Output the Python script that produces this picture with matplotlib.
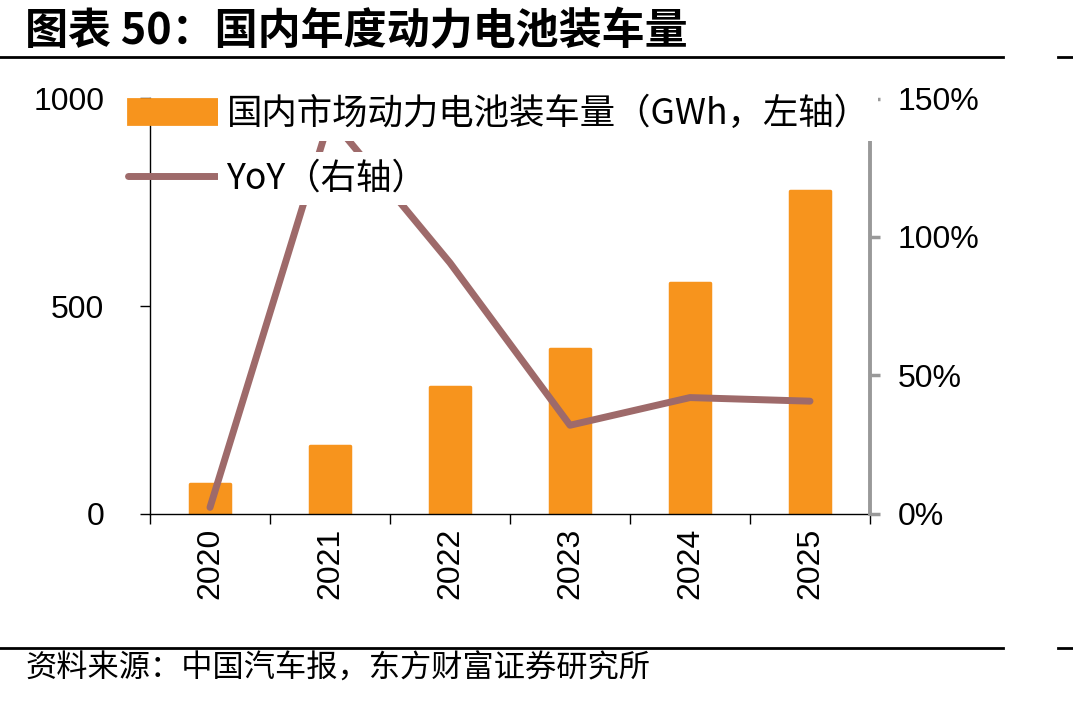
import matplotlib
matplotlib.use("Agg")
import matplotlib.pyplot as plt
from matplotlib.lines import Line2D
from matplotlib.ticker import FixedLocator, FuncFormatter

years = ["2020", "2021", "2022", "2023", "2024", "2025"]
install_gwh = [72, 163, 304, 397, 556, 777]
yoy = [0.022, 1.43, 0.906, 0.319, 0.419, 0.406]

left_ticks = [0, 500, 1000]
right_ticks = [0, 0.5, 1.0, 1.5]

title = "图表 50：国内年度动力电池装车量"
source = "资料来源：中国汽车报，东方财富证券研究所"
bar_label = "国内市场动力电池装车量（GWh，左轴）"
line_label = "YoY（右轴）"

CJK = ["Noto Sans CJK SC", "DejaVu Sans"]
NUM = ["Liberation Sans", "DejaVu Sans"]
BAR_C = "#F7941D"
LINE_C = "#9E6A6A"
GRAY = "#999999"

W, H = 1073, 701
fig = plt.figure(figsize=(W / 100, H / 100), dpi=100)

ax = fig.add_axes([150 / W, 1 - 513.5 / H, 720 / W, 415 / H])
x = list(range(len(years)))
ax.bar(x, install_gwh, width=0.33, color=BAR_C, edgecolor=BAR_C,
       linewidth=2.5, joinstyle="round", zorder=2)
ax.set_xlim(-0.5, len(years) - 0.5)
ax.set_ylim(0, 1000)
ax.set_yticks(left_ticks)
ax.set_yticklabels([str(v) for v in left_ticks], fontfamily=NUM, fontsize=23)
ax.tick_params(axis="y", direction="out", length=7, width=1, pad=26, colors="black")
ax.set_xticks(x)
ax.set_xticklabels(years, rotation=90, fontfamily=NUM, fontsize=23)
ax.tick_params(axis="x", which="major", length=0, pad=10)
ax.xaxis.set_minor_locator(FixedLocator([i - 0.5 for i in range(len(years) + 1)]))
ax.tick_params(axis="x", which="minor", direction="out", length=7, width=1, color="black")
for s in ["top", "right"]:
    ax.spines[s].set_visible(False)
ax.spines["left"].set_linewidth(1)
ax.spines["bottom"].set_linewidth(1)

ax2 = ax.twinx()
ax2.plot(x, yoy, color=LINE_C, linewidth=5, solid_capstyle="round",
         solid_joinstyle="round", zorder=3)
ax2.set_ylim(0, 1.5)
ax2.set_yticks(right_ticks)
ax2.yaxis.set_major_formatter(FuncFormatter(lambda v, p: f"{v*100:.0f}%"))
for lab in ax2.get_yticklabels():
    lab.set_fontfamily(NUM)
    lab.set_fontsize(23)
ax2.tick_params(axis="y", direction="out", length=7, width=2.5, color=GRAY,
                labelcolor="black", pad=13)
for s in ["top", "left", "bottom"]:
    ax2.spines[s].set_visible(False)
ax2.spines["right"].set_color(GRAY)
ax2.spines["right"].set_linewidth(2.8)

handles = [
    plt.Rectangle((0, 0), 1, 1, facecolor=BAR_C, edgecolor=BAR_C, linewidth=2, joinstyle="round"),
    Line2D([0], [0], color=LINE_C, linewidth=5, solid_capstyle="round"),
]
leg = fig.legend(handles, [bar_label, line_label], loc="upper left",
                 bbox_to_anchor=(128 / W, 1 - 96 / H), frameon=False,
                 prop={"family": CJK, "size": 25.5}, borderpad=0,
                 borderaxespad=0, handlelength=2.5, handleheight=0.7,
                 handletextpad=0.28, labelspacing=0.8)
for t in leg.get_texts():
    t.set_bbox(dict(facecolor="white", edgecolor="none", pad=6))

fig.text(25 / W, 1 - 31 / H, title, fontfamily=CJK, fontsize=31, fontweight="bold",
         va="center", ha="left")
fig.text(25 / W, 1 - 669 / H, source, fontfamily=CJK, fontsize=22.5,
         va="center", ha="left")

for yy in (57, 648):
    fig.add_artist(Line2D([0, 1003 / W], [1 - yy / H] * 2, color="black", lw=2))
    fig.add_artist(Line2D([1058 / W, 1], [1 - yy / H] * 2, color="black", lw=2))

fig.savefig("out.png", dpi=100)
